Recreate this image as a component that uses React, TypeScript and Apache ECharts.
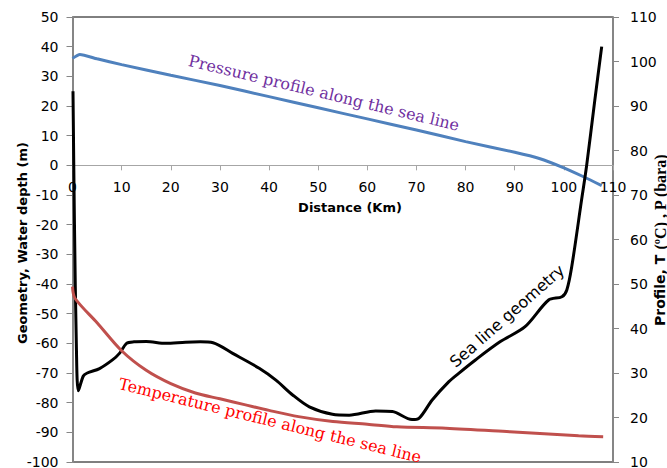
import React, { useEffect, useRef } from "react";
import * as echarts from "echarts";

// Sea line geometry (left axis, m)
const geoKm = [0.1, 0.4, 0.8, 1.2, 2.2, 3, 5.5, 8.2, 9.6, 11, 12.5, 15, 19, 23, 26, 28.6, 32.6, 38, 41.4, 44.8, 48.2, 52.9, 56.3, 61.7, 65.1, 69.1, 70.5, 73.2, 76.6, 78.6, 82, 87, 92.1, 96.9, 99.6, 100.6, 101.6, 103.6, 104.6, 106.3, 107.7];
const geoDepth = [25, -20, -62, -76, -71, -70, -68.5, -65.5, -63.3, -60, -59.5, -59.4, -60, -59.6, -59.5, -59.8, -63.4, -68.4, -72.4, -77.4, -81.4, -83.9, -84.2, -82.8, -83, -85.7, -85.3, -79.1, -72.9, -70.1, -65.6, -59.5, -54.4, -45.4, -44.3, -42, -34.2, -11.7, -0.5, 22, 40];

// Pressure profile (right axis, bara)
const presKm = [0, 1.5, 5, 10, 20, 30, 40, 50, 60, 70, 80, 90, 95, 100, 104, 107.7];
const presBar = [100.7, 101.6, 100.6, 99.3, 96.9, 94.6, 92.1, 89.6, 87.1, 84.6, 82.0, 79.6, 78.2, 76.1, 74.1, 72.1];

// Temperature profile (right axis, °C)
const tempKm = [0, 0.5, 5, 10, 15, 20, 25, 30, 35, 40, 46, 53, 60, 66, 76, 89, 103, 108];
const tempC = [49.4, 46.8, 41.3, 35.0, 30.6, 27.6, 25.5, 24.2, 22.9, 21.6, 20.2, 19.1, 18.5, 17.9, 17.6, 16.8, 15.9, 15.7];

const zip = (a: number[], b: number[]) => a.map((v, i) => [v, b[i]]);

const AXIS_GRAY = "#868686";
const TICK_FONT = "DejaVu Sans";

const GRID_TOP = 17;
const GRID_BOTTOM_PX = 462;
const LEFT_MIN = -100;
const LEFT_MAX = 50;

export default function App() {
  const ref = useRef<HTMLDivElement>(null);
  useEffect(() => {
    const chart = echarts.init(ref.current!, null, { renderer: "svg" });
    const plotH = GRID_BOTTOM_PX - GRID_TOP;
    const zeroY = GRID_TOP + (LEFT_MAX / (LEFT_MAX - LEFT_MIN)) * plotH;
    chart.setOption({
      animation: false,
      backgroundColor: "#fff",
      grid: {
        left: 72.5,
        right: 54,
        top: GRID_TOP,
        bottom: 468 - GRID_BOTTOM_PX,
        show: true,
        borderColor: "#000",
        borderWidth: 1,
        containLabel: false,
        outerBoundsMode: "none",
      },
      xAxis: {
        type: "value",
        min: 0,
        max: 110,
        interval: 10,
        position: "bottom",
        offset: -(GRID_BOTTOM_PX - zeroY),
        axisLine: { onZero: false, lineStyle: { color: "#A6A6A6", width: 1 } },
        axisTick: { show: true, length: 5, lineStyle: { color: "#A6A6A6" } },
        axisLabel: { fontSize: 14, fontFamily: TICK_FONT, color: "#000", margin: 15 },
        splitLine: { show: false },
      },
      yAxis: [
        {
          type: "value",
          min: LEFT_MIN,
          max: LEFT_MAX,
          interval: 10,
          position: "left",
          axisLine: { show: true, onZero: false, lineStyle: { color: AXIS_GRAY, width: 2 } },
          axisTick: { show: true, length: 6, lineStyle: { color: AXIS_GRAY } },
          axisLabel: { fontSize: 14, lineHeight: 11, fontFamily: TICK_FONT, color: "#000", margin: 14 },
          splitLine: { show: false },
        },
        {
          type: "value",
          min: 10,
          max: 110,
          interval: 10,
          position: "right",
          axisLine: { show: true, onZero: false, lineStyle: { color: AXIS_GRAY, width: 2 } },
          axisTick: { show: true, length: 6, lineStyle: { color: AXIS_GRAY } },
          axisLabel: { fontSize: 14, lineHeight: 11, fontFamily: TICK_FONT, color: "#000", margin: 17 },
          splitLine: { show: false },
        },
      ],
      series: [
        {
          name: "Pressure",
          type: "line",
          yAxisIndex: 1,
          data: zip(presKm, presBar),
          showSymbol: false,
          smooth: 0.2,
          lineStyle: { color: "#4F81BD", width: 3 },
        },
        {
          name: "Geometry",
          type: "line",
          yAxisIndex: 0,
          data: zip(geoKm, geoDepth),
          showSymbol: false,
          smooth: 0.3,
          lineStyle: { color: "#000", width: 3 },
        },
        {
          name: "Temperature",
          type: "line",
          yAxisIndex: 1,
          data: zip(tempKm, tempC),
          showSymbol: false,
          smooth: 0.3,
          lineStyle: { color: "#C0504D", width: 3 },
        },
      ],
      graphic: [
        {
          type: "text",
          x: 22,
          y: 243,
          rotation: Math.PI / 2,
          style: {
            text: "Geometry, Water depth (m)",
            fontFamily: "DejaVu Sans",
            fontWeight: "bold",
            fontSize: 13,
            fill: "#000",
            align: "center",
            verticalAlign: "middle",
          },
        },
        {
          type: "text",
          x: 660,
          y: 240,
          rotation: Math.PI / 2,
          style: {
            text: "{a|Profile, T }{b|(ºC) , P (bara)}",
            rich: {
              a: { fontFamily: "DejaVu Sans", fontWeight: "bold", fontSize: 14, fill: "#000" },
              b: { fontFamily: "Liberation Serif", fontWeight: "bold", fontSize: 16, fill: "#000" },
            },
            align: "center",
            verticalAlign: "middle",
          },
        },
        {
          type: "text",
          x: 350,
          y: 207,
          style: {
            text: "Distance (Km)",
            fontFamily: "DejaVu Sans",
            fontWeight: "bold",
            fontSize: 13,
            fill: "#000",
            align: "center",
            verticalAlign: "middle",
          },
        },
        {
          type: "text",
          x: 324,
          y: 93,
          rotation: -0.236,
          style: {
            text: "Pressure profile along the sea line",
            fontFamily: "DejaVu Serif",
            fontSize: 16,
            fill: "#7030A0",
            align: "center",
            verticalAlign: "middle",
          },
        },
        {
          type: "text",
          x: 270,
          y: 420.5,
          rotation: -0.24,
          style: {
            text: "Temperature profile along the sea line",
            fontFamily: "DejaVu Serif",
            fontSize: 16,
            lineHeight: 16,
            fill: "#FF0000",
            align: "center",
            verticalAlign: "middle",
          },
        },
        {
          type: "text",
          x: 507,
          y: 316,
          rotation: 0.72,
          style: {
            text: "Sea line geometry",
            fontFamily: "DejaVu Sans",
            fontSize: 16,
            fill: "#000",
            align: "center",
            verticalAlign: "middle",
          },
        },
      ],
    });
    return () => chart.dispose();
  }, []);
  return (
    <div
      ref={ref}
      style={{ position: "fixed", left: 0, top: 0, width: 667, height: 468, background: "#fff" }}
    />
  );
}
